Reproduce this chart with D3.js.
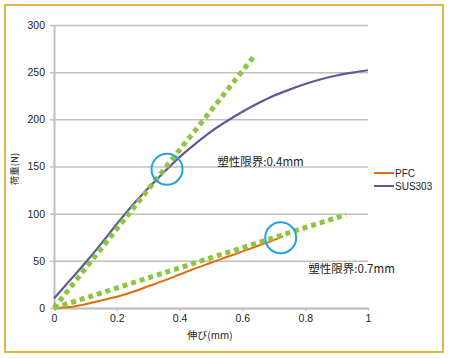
<!DOCTYPE html>
<html><head><meta charset="utf-8">
<script src="https://cdn.jsdelivr.net/npm/d3@7"></script>
<style>body{margin:0;background:#fff}svg{display:block}</style>
</head><body>
<svg id="c" width="450" height="358"></svg>
<script>
// ---- data ----
const xTicks = [0, 0.2, 0.4, 0.6, 0.8, 1];
const xTickLabels = ["0", "0.2", "0.4", "0.6", "0.8", "1"];
const yTicks = [0, 50, 100, 150, 200, 250, 300];
const seriesNames = ["PFC", "SUS303"];
const pfcX = [0, 0.05, 0.1, 0.15, 0.2, 0.25, 0.3, 0.35, 0.4, 0.45, 0.5, 0.55, 0.6, 0.65, 0.7, 0.73];
const pfcY = [0, 1, 4, 8, 12, 17, 23, 29, 35.5, 42, 48, 54, 60, 66, 72, 76];
const susX = [0, 0.05, 0.1, 0.15, 0.2, 0.25, 0.3, 0.35, 0.4, 0.45, 0.5, 0.55, 0.6, 0.65, 0.7, 0.75, 0.8, 0.85, 0.9, 0.95, 1.0];
const susY = [10, 29, 48, 68, 89, 109, 127, 144, 160, 174, 187, 198, 208, 217, 225, 231.5, 237.5, 242.5, 246.5, 249.5, 252];
const fit1 = [[0, 0], [0.64, 268]];
const fit2 = [[0, 0], [0.93, 99]];
const limitPoints = [[0.36, 147], [0.722, 74.5]];
const limitLabels = ["塑性限界:0.4mm", "塑性限界:0.7mm"];
const labelAnchors = [[0.52, 151], [0.81, 37]];
const xTitle = "伸び(mm)";
const yTitle = "荷重(N)";

// ---- chart ----
const svg = d3.select("#c");
const x = d3.scaleLinear().domain([0, 1]).range([54, 368]);
const y = d3.scaleLinear().domain([0, 300]).range([308, 25]);
const grid = "#bfbfbf";
const font = "'Liberation Sans', Arial, sans-serif";
const jfont = "'Noto Sans CJK JP', sans-serif";

svg.append("rect").attr("x", 5).attr("y", 5).attr("width", 438).attr("height", 347)
  .attr("fill", "#fff").attr("stroke", "#e2b54a").attr("stroke-width", 2);

// y grid + axis
const ya = svg.append("g").attr("transform", `translate(${x(0)},0)`)
  .call(d3.axisLeft(y).tickValues(yTicks).tickSize(4).tickSizeOuter(0).tickPadding(5));
ya.select(".domain").attr("stroke", grid).attr("stroke-width", 2);
ya.selectAll(".tick line").attr("stroke", grid).attr("stroke-width", 1.5)
  .attr("x2", -4).attr("x1", x(1) - x(0));
ya.selectAll(".tick text").attr("font-family", font).attr("font-size", 10.5).attr("fill", "#222");

const xa = svg.append("g").attr("transform", `translate(0,${y(0)})`)
  .call(d3.axisBottom(x).tickValues(xTicks).tickFormat((d, i) => xTickLabels[i]).tickSize(3).tickSizeOuter(0).tickPadding(4));
xa.select(".domain").attr("stroke", grid).attr("stroke-width", 2);
xa.selectAll(".tick line").attr("stroke", grid).attr("stroke-width", 1.2);
xa.selectAll(".tick text").attr("font-family", font).attr("font-size", 10.5).attr("fill", "#222");

// titles
svg.append("text").attr("x", 210).attr("y", 339).attr("text-anchor", "middle")
  .attr("font-family", jfont).attr("font-size", 10).attr("fill", "#222").text(xTitle);
svg.append("text").attr("transform", "translate(18,169) rotate(-90)").attr("text-anchor", "middle")
  .attr("font-family", jfont).attr("font-size", 9.5).attr("fill", "#222").text(yTitle);

// series
const line = d3.line().x(d => x(d[0])).y(d => y(d[1]));
const pfc = pfcX.map((v, i) => [v, pfcY[i]]);
const sus = susX.map((v, i) => [v, susY[i]]);
const curve = d3.line().x(d => x(d[0])).y(d => y(d[1])).curve(d3.curveMonotoneX);
svg.append("path").datum(pfc).attr("d", curve).attr("fill", "none").attr("stroke", "#e46c0a").attr("stroke-width", 2);
svg.append("path").datum(sus).attr("d", curve).attr("fill", "none").attr("stroke", "#5b5b9b").attr("stroke-width", 2.2);

// fit lines
[fit1, fit2].forEach(f => {
  svg.append("path").datum(f).attr("d", line).attr("fill", "none")
    .attr("stroke", "#8cc63f").attr("stroke-width", 5).attr("stroke-dasharray", "5,4");
});

// circles
svg.selectAll("circle.lim").data(limitPoints).join("circle").attr("class", "lim")
  .attr("cx", d => x(d[0])).attr("cy", d => y(d[1])).attr("r", 15.5)
  .attr("fill", "none").attr("stroke", "#21a3dc").attr("stroke-width", 2);

// annotations
svg.selectAll("text.ann").data(limitLabels).join("text").attr("class", "ann")
  .attr("x", (d, i) => x(labelAnchors[i][0])).attr("y", (d, i) => y(labelAnchors[i][1]))
  .attr("font-family", jfont).attr("font-size", 11.5).attr("fill", "#222").text(d => d);

// legend
const lg = svg.append("g");
const lcol = ["#e46c0a", "#5b5b9b"];
seriesNames.forEach((n, i) => {
  const yy = 173 + i * 13;
  lg.append("line").attr("x1", 374).attr("x2", 394).attr("y1", yy).attr("y2", yy)
    .attr("stroke", lcol[i]).attr("stroke-width", 2);
  lg.append("text").attr("x", 395).attr("y", yy + 3.5).attr("font-family", font)
    .attr("font-size", 10).attr("fill", "#222").text(n);
});
</script>
</body></html>
